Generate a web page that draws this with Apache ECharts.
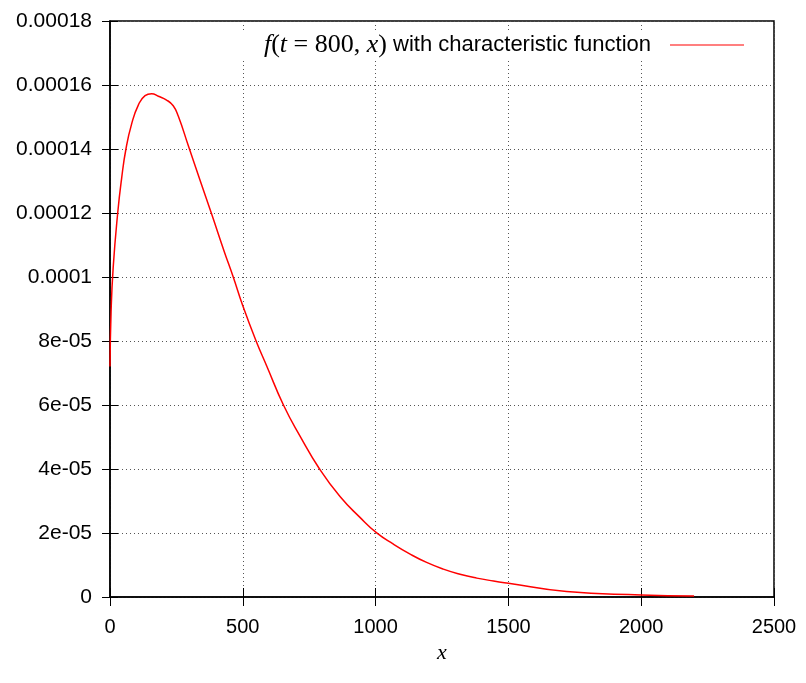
<!DOCTYPE html>
<html>
<head>
<meta charset="utf-8">
<title>f(t = 800, x)</title>
<script src="https://cdn.jsdelivr.net/npm/echarts@6/dist/echarts.min.js"></script>
<style>
  html, body { margin: 0; padding: 0; background: #fff; }
  #chart { width: 806px; height: 683px; }
</style>
</head>
<body>
<div id="chart"></div>
<script>
// Density f(t = 800, x) obtained from the characteristic function
const xValues = [0, 4, 12, 29, 44, 60, 82, 107, 132, 157, 182, 213, 238, 257, 295, 339, 383, 430, 464, 500,
  550, 590, 653, 716, 789, 866, 942, 1003, 1067, 1130, 1192, 1255, 1318, 1381, 1444, 1500, 1719, 2000, 2199];
const fValues = [7.2e-5, 8.9e-5, 1.03e-4, 1.2e-4, 1.31e-4, 1.4e-4, 1.48e-4, 1.538e-4, 1.567e-4, 1.573e-4,
  1.565e-4, 1.553e-4, 1.535e-4, 1.503e-4, 1.41e-4, 1.302e-4, 1.196e-4, 1.08e-4, 1.0e-4, 9.1e-5,
  8.0e-5, 7.22e-5, 6.0e-5, 5.02e-5, 4.0e-5, 3.14e-5, 2.48e-5, 2.01e-5, 1.65e-5, 1.34e-5,
  1.08e-5, 8.7e-6, 7.1e-6, 5.9e-6, 5.0e-6, 4.3e-6, 1.7e-6, 6.5e-7, 3e-7];

const xTickLabels = ['0', '500', '1000', '1500', '2000', '2500'];
const yTickLabels = ['0', '2e-05', '4e-05', '6e-05', '8e-05', '0.0001', '0.00012', '0.00014', '0.00016', '0.00018'];

const seriesName = 'f(t = 800, x) with characteristic function';

const points = xValues.map((x, i) => [x, fValues[i]]);

const sans = 'Liberation Sans, Arial, sans-serif';
const serif = 'Liberation Serif, DejaVu Serif, serif';

const gridLine = { show: true, lineStyle: { color: '#555', type: [1, 3], width: 1 } };

const chart = echarts.init(document.getElementById('chart'), null, { renderer: 'canvas' });

chart.setOption({
  animation: false,
  backgroundColor: '#fff',
  grid: {
    left: 110, right: 32, top: 21, bottom: 86,
    show: true, borderColor: '#000', borderWidth: 1.5, backgroundColor: 'transparent'
  },
  legend: {
    data: [{ name: seriesName, icon: 'rect' }],
    right: 33,
    top: 30,
    align: 'right',
    padding: [2, 29, 2, 30],
    backgroundColor: '#fff',
    itemWidth: 74,
    itemHeight: 1.2,
    itemGap: 0,
    formatter: () => '{i|f}{r|(}{i|t}{r| = 800, }{i|x}{r|)}{s| with characteristic function}',
    textStyle: {
      padding: [0, 14, 0, 0],
      rich: {
        i: { fontFamily: serif, fontStyle: 'italic', fontSize: 26, color: '#000' },
        r: { fontFamily: serif, fontSize: 26, color: '#000' },
        s: { fontFamily: sans, fontSize: 22, color: '#000' }
      }
    }
  },
  xAxis: [{
    type: 'value', min: 0, max: 2500, interval: 500,
    name: 'x', nameLocation: 'middle', nameGap: 36,
    nameTextStyle: { fontFamily: serif, fontStyle: 'italic', fontSize: 22, color: '#000' },
    axisLine: { show: true, lineStyle: { color: '#000', width: 1.5 } },
    axisTick: { show: true, inside: true, length: 9, lineStyle: { color: '#000', width: 1 } },
    axisLabel: {
      margin: 20, color: '#000', fontFamily: sans, fontSize: 20,
      formatter: v => xTickLabels[Math.round(v / 500)]
    },
    splitLine: gridLine
  }, {
    type: 'value', min: 0, max: 2500, interval: 500, position: 'top',
    axisLine: { show: false },
    axisTick: { show: true, inside: true, length: 9, lineStyle: { color: '#000', width: 1 } },
    axisLabel: { show: false },
    splitLine: { show: false }
  }],
  yAxis: [{
    type: 'value', min: 0, max: 0.00018, interval: 0.00002,
    axisLine: { show: true, lineStyle: { color: '#000', width: 1.5 } },
    axisTick: { show: true, inside: true, length: 8, lineStyle: { color: '#000', width: 1 } },
    axisLabel: {
      margin: 18, color: '#000', fontFamily: sans, fontSize: 21,
      formatter: v => yTickLabels[Math.round(v / 0.00002)]
    },
    splitLine: gridLine
  }, {
    type: 'value', min: 0, max: 0.00018, interval: 0.00002, position: 'right',
    axisLine: { show: false },
    axisTick: { show: true, inside: true, length: 8, lineStyle: { color: '#000', width: 1 } },
    axisLabel: { show: false },
    splitLine: { show: false }
  }],
  series: [{
    name: seriesName,
    type: 'line',
    xAxisIndex: 0,
    yAxisIndex: 0,
    data: points,
    showSymbol: false,
    symbol: 'none',
    smooth: 0.5,
    color: '#ff0000',
    lineStyle: { color: '#ff0000', width: 1.5 }
  }]
});
</script>
</body>
</html>
